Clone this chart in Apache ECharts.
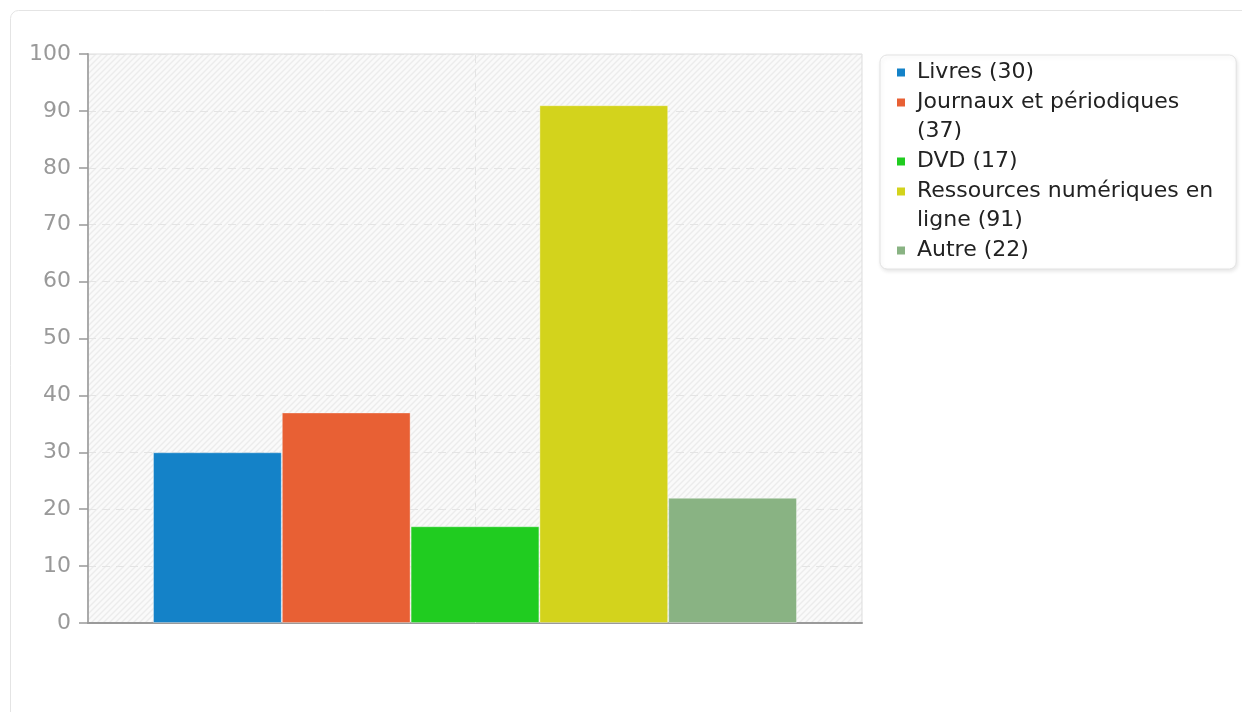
<!DOCTYPE html>
<html><head><meta charset="utf-8">
<script src="https://cdn.jsdelivr.net/npm/echarts@6/dist/echarts.min.js"></script>
<style>html,body{margin:0;padding:0;background:#fff}#c{width:1242px;height:712px}</style>
</head><body><div id="c"></div>
<script>
// ---- data ----
const categories = ['Total'];
const seriesNames = ['Livres', 'Journaux et périodiques', 'DVD', 'Ressources numériques en ligne', 'Autre'];
const seriesValues = [30, 37, 17, 91, 22];
const legendLabels = ['Livres (30)', 'Journaux et périodiques\n(37)', 'DVD (17)', 'Ressources numériques en\nligne (91)', 'Autre (22)'];
const seriesColors = ['#1482c8', '#e86034', '#20cc20', '#d3d31c', '#89b383'];
const yMin = 0, yMax = 100, yInterval = 10;

// ---- hatched plot background ----
function hatch() {
  const s = 6, cv = document.createElement('canvas');
  cv.width = s; cv.height = s;
  const g = cv.getContext('2d');
  g.fillStyle = '#fafafa'; g.fillRect(0, 0, s, s);
  g.strokeStyle = '#ececec'; g.lineWidth = 1.4;
  g.beginPath();
  g.moveTo(-1, s + 1); g.lineTo(s + 1, -1);
  g.moveTo(-1, 1); g.lineTo(1, -1);
  g.moveTo(s - 1, s + 1); g.lineTo(s + 1, s - 1);
  g.stroke();
  return cv;
}

// legend icon: square aligned with the first text line
function legendIcon(label) {
  const lines = label.split('\n').length;
  const top = lines > 1 ? 0 : 14.5;
  return 'path://M7,' + top + 'h8v8h-8z M0,0L0.01,0 M22,37L21.99,37';
}

const labelMap = {};
seriesNames.forEach((n, i) => { labelMap[n] = legendLabels[i]; });

const chart = echarts.init(document.getElementById('c'), null, { renderer: 'canvas' });
const font = 'DejaVu Sans';

const barSeries = seriesNames.map((n, i) => ({
  name: n, type: 'bar',
  barGap: '0%', barCategoryGap: '16.8%',
  itemStyle: { color: seriesColors[i], borderColor: 'rgba(255,255,255,0.35)', borderWidth: 1 },
  data: [seriesValues[i]]
}));

// vertical dashed guide at the category centre (behind the bars)
const guideSeries = {
  name: 'guide', type: 'line', data: [], z: 1, silent: true,
  markLine: {
    silent: true, z: 1, symbol: ['none', 'none'],
    label: { show: false },
    lineStyle: { color: '#e4e4e4', type: [8, 6], width: 1 },
    data: [{ xAxis: categories[0] }]
  }
};

const option = {
  animation: false,
  color: seriesColors,
  graphic: [{
    type: 'rect', silent: true, z: -10,
    shape: { x: 10.5, y: 10.5, width: 1300, height: 760, r: 8 },
    style: { fill: 'none', stroke: '#e4e4e4', lineWidth: 1 }
  }],
  grid: {
    left: 88, right: 380, top: 54, bottom: 89,
    show: true, borderColor: '#dddddd', borderWidth: 1,
    backgroundColor: { image: hatch(), repeat: 'repeat' }
  },
  legend: {
    orient: 'vertical',
    left: 880, top: 55,
    itemWidth: 22, itemHeight: 37, itemGap: -3,
    padding: [-1, 23, 0, 10],
    backgroundColor: '#ffffff',
    borderColor: '#e2e2e2', borderWidth: 1, borderRadius: 7,
    shadowColor: 'rgba(0,0,0,0.10)', shadowBlur: 4, shadowOffsetX: 1, shadowOffsetY: 2,
    itemStyle: { borderWidth: 0 },
    textStyle: { fontFamily: font, fontSize: 22, color: '#222', lineHeight: 29 },
    data: seriesNames.map((n, i) => ({ name: n, icon: legendIcon(legendLabels[i]) })),
    formatter: name => labelMap[name]
  },
  xAxis: {
    type: 'category', data: categories,
    axisLine: { show: true, lineStyle: { color: '#9a9a9a', width: 2 } },
    axisTick: { show: false }, axisLabel: { show: false },
    splitLine: { show: false }
  },
  yAxis: {
    type: 'value', min: yMin, max: yMax, interval: yInterval,
    axisLine: { show: true, lineStyle: { color: '#aaaaaa', width: 2 } },
    axisTick: { show: true, length: 9, lineStyle: { color: '#999', width: 1.5 } },
    axisLabel: { color: '#999', fontFamily: font, fontSize: 22, margin: 17 },
    splitLine: { show: true, lineStyle: { color: '#e4e4e4', type: [8, 6], width: 1 } }
  },
  series: barSeries.concat([guideSeries])
};
chart.setOption(option);
</script>
</body></html>
